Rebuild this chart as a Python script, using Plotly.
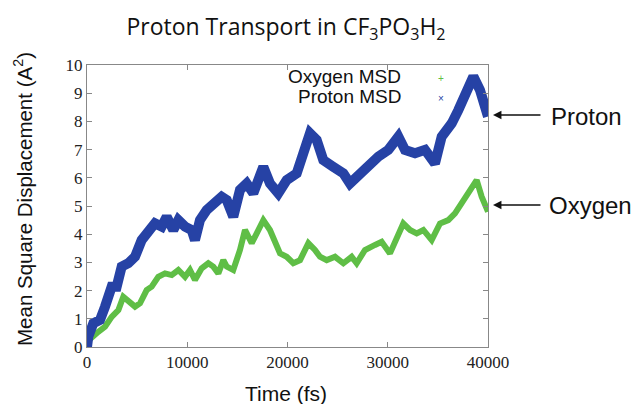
import plotly.graph_objects as go

# Time (fs) and MSD values
proton_t = [0, 130, 630, 1300, 1800, 2460, 2960, 3460, 4120, 4790, 5450, 6120, 6780, 7450,
            7950, 8610, 9110, 9780, 10440, 10770, 11270, 11940, 12770, 13430, 13940, 14590,
            15260, 15930, 16590, 17590, 18250, 19080, 19920, 20920, 21580, 22240, 22910,
            23570, 24570, 25570, 26230, 26900, 27730, 29060, 30060, 31060, 31720, 32720,
            33720, 34710, 35380, 36380, 37040, 37880, 38540, 39200, 39700, 40000]
proton_msd = [0.0, 0.37, 0.84, 0.96, 1.43, 2.14, 2.14, 2.85, 2.97, 3.2, 3.79, 4.03, 4.39, 4.27,
              4.62, 4.15, 4.5, 4.27, 4.15, 3.79, 4.5, 4.86, 5.1, 5.33, 5.21, 4.62,
              5.57, 5.8, 5.45, 6.39, 5.8, 5.45, 5.92, 6.16, 6.87, 7.58, 7.34,
              6.63, 6.39, 6.16, 5.8, 6.04, 6.39, 6.75, 6.99, 7.46, 6.99, 6.87,
              6.99, 6.51, 7.46, 7.93, 8.4, 9.0, 9.59, 9.11, 8.4, 8.17]

oxygen_t = [0, 50, 1130, 1800, 2460, 3130, 3620, 4290, 4790, 5290, 5950, 6450, 7110, 7780,
            8450, 9110, 9780, 10270, 10770, 11440, 12100, 12600, 13100, 13600, 13940, 14590,
            15260, 15760, 16430, 16930, 17590, 18250, 18750, 19250, 19920, 20580, 21250,
            22080, 22740, 23240, 23910, 24740, 25570, 26400, 26900, 27730, 28730, 29390,
            30220, 30890, 31550, 32220, 32890, 33550, 34380, 35210, 36040, 36710, 37380,
            38040, 38870, 39370, 39870, 40000]
oxygen_msd = [0.0, 0.2, 0.54, 0.72, 1.07, 1.31, 1.78, 1.55, 1.43, 1.55, 2.02, 2.14, 2.49, 2.61,
              2.55, 2.73, 2.49, 2.73, 2.38, 2.79, 2.97, 2.85, 2.61, 3.08, 2.85, 2.73,
              3.44, 4.15, 3.68, 4.03, 4.5, 4.15, 3.79, 3.32, 3.2, 2.97, 3.08,
              3.68, 3.44, 3.2, 3.08, 3.2, 2.97, 3.2, 2.97, 3.44, 3.62, 3.73,
              3.32, 3.91, 4.38, 4.15, 4.03, 4.15, 3.79, 4.38, 4.5, 4.74, 5.1,
              5.45, 5.92, 5.33, 4.86, 4.8]

x_ticks = [0, 10000, 20000, 30000, 40000]
y_ticks = list(range(0, 11))

BLUE = "rgb(38,66,165)"
GREEN = "rgb(95,190,70)"

fig = go.Figure()
fig.add_trace(go.Scatter(x=oxygen_t, y=oxygen_msd, mode="lines",
                         line=dict(color=GREEN, width=6), showlegend=False))
fig.add_trace(go.Scatter(x=proton_t, y=proton_msd, mode="lines",
                         line=dict(color=BLUE, width=10), showlegend=False))

axis_common = dict(showgrid=False, zeroline=False, showline=True, linecolor="#888888",
                   linewidth=1, mirror="ticks", ticks="inside", ticklen=5,
                   tickcolor="#888888",
                   tickfont=dict(family="Liberation Serif", size=17, color="#222"))

fig.update_xaxes(range=[0, 40000], tickvals=x_ticks, ticktext=[str(v) for v in x_ticks],
                 **axis_common)
fig.update_yaxes(range=[0, 10], tickvals=y_ticks, **axis_common)

def px(xp):
    return (xp - 87) / 401

def py(yp):
    return (347 - yp) / 282

# Axis titles
fig.add_annotation(text="Mean Square Displacement (A<sup>2</sup>)", textangle=-90,
                   xref="paper", yref="paper", x=px(23), y=py(199),
                   xanchor="center", yanchor="middle", showarrow=False,
                   font=dict(family="Liberation Sans", size=20.5, color="#111"))
fig.add_annotation(text="Time (fs)", xref="paper", yref="paper", x=px(286), y=py(393),
                   xanchor="center", yanchor="middle", showarrow=False,
                   font=dict(family="Liberation Sans", size=21, color="#111"))

anns = [
    dict(text="Oxygen MSD", x=403, y=77, xanchor="right", font_size=19),
    dict(text="Proton MSD", x=403, y=96, xanchor="right", font_size=19),
    dict(text="+", x=441, y=78, xanchor="center", font_size=10, color=GREEN),
    dict(text="×", x=441, y=98, xanchor="center", font_size=10, color=BLUE),
    dict(text="Proton", x=549, y=116, xanchor="left", font_size=24),
    dict(text="Oxygen", x=547, y=205, xanchor="left", font_size=24),
]
for a in anns:
    fig.add_annotation(text=a["text"], xref="paper", yref="paper",
                       x=px(a["x"]), y=py(a["y"]),
                       xanchor=a["xanchor"], yanchor="middle", showarrow=False,
                       font=dict(family="Liberation Sans", size=a["font_size"],
                                 color=a.get("color", "#111")))

for ytxt in [115, 205]:
    fig.add_annotation(xref="paper", yref="paper", axref="pixel", ayref="pixel",
                       x=px(493), y=py(ytxt), ax=49, ay=0,
                       text="", showarrow=True, arrowhead=2, arrowsize=1.3,
                       arrowwidth=1.3, arrowcolor="#111")

fig.update_layout(
    width=634, height=404,
    margin=dict(l=87, r=146, t=65, b=57),
    plot_bgcolor="white", paper_bgcolor="white",
    title=dict(text="Proton Transport in CF<sub>3</sub>PO<sub>3</sub>H<sub>2</sub>",
               x=286 / 634, xanchor="center", y=1 - 27 / 404, yanchor="middle",
               font=dict(family="Open Sans", size=23, color="#111")),
)

fig.write_html("out.html")
